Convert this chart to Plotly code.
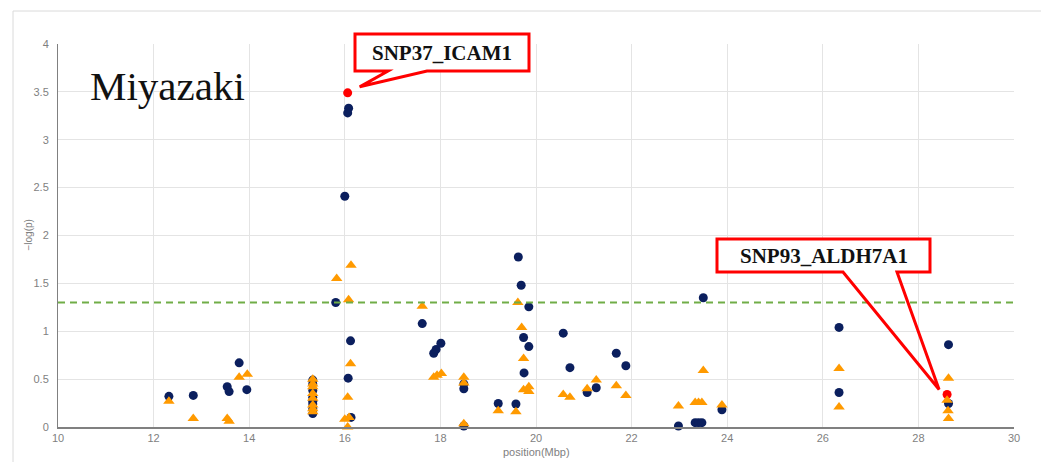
import plotly.graph_objects as go

# ---------------- data ----------------
circle_x = [12.32, 12.83, 13.54, 13.58, 13.79, 13.95,
            15.33, 15.33, 15.33, 15.33, 15.33, 15.33, 15.33, 15.33,
            15.81, 16.00, 16.08, 16.06, 16.12, 16.07, 16.13,
            17.62, 17.86, 17.91, 18.01,
            18.49, 18.49, 18.49,
            19.21, 19.58, 19.63, 19.69, 19.85, 19.74, 19.85, 19.75,
            20.57, 20.71, 21.07, 21.26, 21.68, 21.88,
            22.98, 23.33, 23.40, 23.47, 23.50, 23.89,
            26.34, 26.34, 28.63, 28.63]
circle_y = [0.32, 0.33, 0.42, 0.37, 0.67, 0.39,
            0.49, 0.45, 0.38, 0.31, 0.27, 0.24, 0.19, 0.14,
            1.30, 2.41, 3.33, 3.28, 0.90, 0.51, 0.10,
            1.08, 0.77, 0.81, 0.875,
            0.45, 0.40, 0.01,
            0.245, 0.24, 1.775, 1.48, 1.255, 0.935, 0.84, 0.565,
            0.98, 0.62, 0.36, 0.41, 0.77, 0.64,
            0.01, 0.045, 0.045, 0.045, 1.35, 0.18,
            1.04, 0.36, 0.86, 0.245]

tri_x = [12.32, 12.83, 13.54, 13.58, 13.79, 13.96,
         15.33, 15.33, 15.33, 15.33, 15.33, 15.33, 15.33, 15.33,
         15.83, 16.13, 16.08, 16.12, 16.06, 16.00, 16.09, 16.06,
         17.62, 17.86, 17.93, 18.02,
         18.49, 18.49, 18.49,
         19.21, 19.58, 19.62, 19.70, 19.74, 19.74, 19.85, 19.85,
         20.57, 20.71, 21.07, 21.26, 21.68, 21.88,
         22.98, 23.33, 23.40, 23.47, 23.50, 23.89,
         26.34, 26.34, 28.63, 28.60, 28.62, 28.63]
tri_y = [0.27, 0.09, 0.09, 0.06, 0.52, 0.55,
         0.50, 0.45, 0.42, 0.35, 0.30, 0.23, 0.19, 0.16,
         1.55, 1.69, 1.33, 0.66, 0.31, 0.08, 0.10, 0.00,
         1.26, 0.52, 0.54, 0.56,
         0.52, 0.46, 0.035,
         0.17, 0.16, 1.30, 1.04, 0.715, 0.39, 0.42, 0.37,
         0.34, 0.31, 0.40, 0.49, 0.43, 0.33,
         0.22, 0.255, 0.255, 0.255, 0.59, 0.23,
         0.61, 0.21, 0.51, 0.28, 0.17, 0.09]

hl_x = [16.06, 28.60]
hl_y = [3.49, 0.34]
hl_labels = ["SNP37_ICAM1", "SNP93_ALDH7A1"]

threshold = 1.30
x_ticks = list(range(10, 31, 2))
y_ticks = [0, 0.5, 1, 1.5, 2, 2.5, 3, 3.5, 4]
title_text = "Miyazaki"

# ---------------- layout geometry (screen pixels) ----------------
W, H = 1049, 462
OFF = 8  # page body margin of the browser
L, R, T, B = 58, 1014, 44, 427
XR = (10, 30)
YR = (0, 4)


def px2paper(px, py):
    return (px - L) / (R - L), (B - py) / (B - T)


def data2px(x, y):
    return (L + (x - XR[0]) / (XR[1] - XR[0]) * (R - L),
            B - (y - YR[0]) / (YR[1] - YR[0]) * (B - T))


fig = go.Figure()
fig.add_trace(go.Scatter(x=circle_x, y=circle_y, mode="markers", name="circle",
                         marker=dict(symbol="circle", size=9, color="#0B1F5E"),
                         showlegend=False, cliponaxis=False))
fig.add_trace(go.Scatter(x=hl_x, y=hl_y, mode="markers", name="highlight",
                         marker=dict(symbol="circle", size=9, color="#FF0000"),
                         showlegend=False, cliponaxis=False))
fig.add_trace(go.Scatter(x=tri_x, y=tri_y, mode="markers", name="triangle",
                         marker=dict(symbol="triangle-up", size=10, color="#FF9A00"),
                         showlegend=False, cliponaxis=False))

shapes = []
annotations = []

# outer frame
fx0, fy0 = px2paper(13, 475)
fx1, fy1 = px2paper(1042, 11)
shapes.append(dict(type="rect", xref="paper", yref="paper", x0=fx0, x1=fx1, y0=fy0, y1=fy1,
                   line=dict(color="#DADADA", width=1), fillcolor="rgba(0,0,0,0)", layer="below"))

# threshold line
shapes.append(dict(type="line", xref="paper", yref="y", x0=0, x1=1, y0=threshold, y1=threshold,
                   line=dict(color="#70AD47", width=2, dash="7px,5px")))

# callouts: box (pixel), tail base x (pixel), tip offset from point (pixel)
callouts = [
    dict(box=(355, 34, 529, 71), base=(388, 427), off=(12, -6), size=21),
    dict(box=(717, 239, 930, 272), base=(843, 897), off=(-8, -5), size=21),
]
for (hx, hy, lab, c) in zip(hl_x, hl_y, hl_labels, callouts):
    bx0, by0, bx1, by1 = c["box"]
    px, py = data2px(hx, hy)
    tipx, tipy = px + c["off"][0], py + c["off"][1]
    p0 = px2paper(bx0, by1)
    p1 = px2paper(bx1, by0)
    shapes.append(dict(type="rect", xref="paper", yref="paper", x0=p0[0], y0=p0[1], x1=p1[0], y1=p1[1],
                       line=dict(width=0), fillcolor="white"))
    pts = [(bx0, by0), (bx1, by0), (bx1, by1), (c["base"][1], by1), (tipx, tipy),
           (c["base"][0], by1), (bx0, by1)]
    pp = [px2paper(a, b) for a, b in pts]
    path = "M " + " L ".join(f"{a:.5f},{b:.5f}" for a, b in pp) + " Z"
    shapes.append(dict(type="path", xref="paper", yref="paper", path=path,
                       line=dict(color="#FF0000", width=3), fillcolor="rgba(0,0,0,0)"))
    cx, cy = px2paper((bx0 + bx1) / 2, (by0 + by1) / 2)
    annotations.append(dict(text=f"<b>{lab}</b>", xref="paper", yref="paper", x=cx, y=cy,
                            xanchor="center", yanchor="middle", showarrow=False,
                            font=dict(family="Liberation Serif", size=c["size"], color="#111111")))

# title text
tx, ty = px2paper(88, 86)
annotations.append(dict(text=title_text, xref="paper", yref="paper", x=tx, y=ty,
                        xanchor="left", yanchor="middle", showarrow=False,
                        font=dict(family="Liberation Serif", size=41, color="#111111")))

# axis titles
ax, ay = px2paper((L + R) / 2, 452)
annotations.append(dict(text="position(Mbp)", xref="paper", yref="paper", x=ax, y=ay,
                        xanchor="center", yanchor="middle", showarrow=False,
                        font=dict(family="Liberation Sans", size=11, color="#7F7F7F")))
bx, by = px2paper(28, (T + B) / 2)
annotations.append(dict(text="\u2212log(p)", xref="paper", yref="paper", x=bx, y=by, textangle=-90,
                        xanchor="center", yanchor="middle", showarrow=False,
                        font=dict(family="Liberation Sans", size=10, color="#7F7F7F")))

FW, FH = W - OFF, H - OFF
fig.update_layout(
    width=FW, height=FH,
    margin=dict(l=L - OFF, r=FW - (R - OFF), t=T - OFF, b=FH - (B - OFF), autoexpand=False),
    paper_bgcolor="white", plot_bgcolor="white",
    shapes=shapes, annotations=annotations,
    xaxis=dict(range=list(XR), tickvals=x_ticks, showgrid=True, gridcolor="#E4E4E4", gridwidth=1,
               showline=True, linecolor="#808080", linewidth=1.5, zeroline=False,
               tickfont=dict(family="Liberation Sans", size=11, color="#7F7F7F"),
               ticks="", fixedrange=True),
    yaxis=dict(range=list(YR), tickvals=y_ticks, showgrid=True, gridcolor="#E4E4E4", gridwidth=1,
               showline=True, linecolor="#808080", linewidth=1, zeroline=False,
               tickfont=dict(family="Liberation Sans", size=11, color="#7F7F7F"),
               ticks="", ticklabelstandoff=6, fixedrange=True),
)

fig.write_html("out.html")
